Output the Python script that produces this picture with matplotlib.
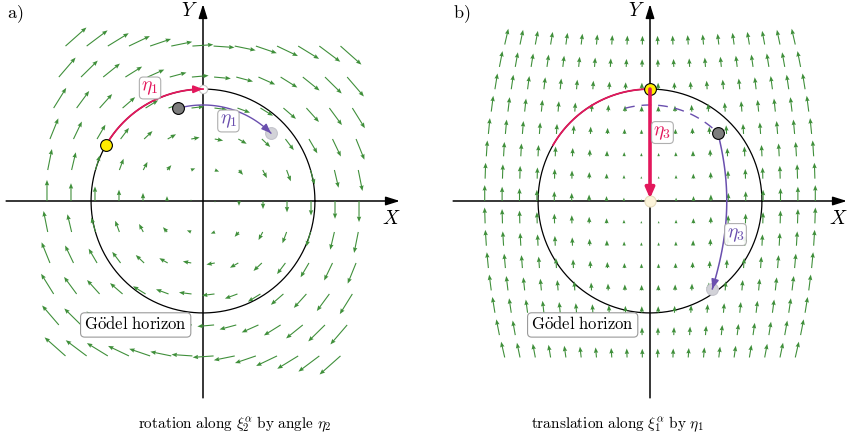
import numpy as np
import matplotlib.pyplot as plt

plt.rcParams['mathtext.fontset'] = 'cm'
plt.rcParams['font.family'] = 'serif'

W, H = 847, 438
PX = 127.0   # pixels per unit of the radial coordinate r

# --- values -----------------------------------------------------------
r_h = np.arcsinh(1.0)          # Goedel horizon, sinh r = 1
eta_deg = 60                   # rotation angle eta_1
yellow_deg = 150               # start of the red arc
gray_r = 0.756                 # radius of the purple point
gray_deg_a = 105               # purple point before rotation
gray_deg_b = gray_deg_a - eta_deg

# grid of the drawn vector fields (model units)
cols_a = (np.arange(-7, 7) + 0.5) * 0.189
rows_a = np.arange(-5, 6) * 0.244
cols_b = (np.arange(-10, 10) + 0.5) * 0.137
rows_b = np.arange(-7, 8) * 0.176

captions = [r'$\mathrm{rotation\ along\ }\xi_2^{\alpha}\mathrm{\ by\ angle\ }\eta_2$',
            r'$\mathrm{translation\ along\ }\xi_1^{\alpha}\mathrm{\ by\ }\eta_1$']
panel_names = [r'$\mathrm{a)}$', r'$\mathrm{b)}$']

GREEN = '#3f8f3a'
RED = '#e3175c'
PURPLE = '#6a4fae'
BEND = 3.54


def make_axes(x0, x1, ox, oy):
    ax = fig.add_axes([x0 / W, 0, (x1 - x0) / W, 1])
    ax.set_xlim((x0 - ox) / PX, (x1 - ox) / PX)
    ax.set_ylim((oy - H) / PX, oy / PX)
    ax.axis('off')
    return ax


def polar(r, deg):
    a = np.deg2rad(deg)
    return r * np.cos(a), r * np.sin(a)


def translate(r, deg, s):
    # hyperbolic translation along -Y in the disk w = tanh(r) e^{i phi}
    w = np.tanh(r) * np.exp(1j * np.deg2rad(deg))
    b = np.tanh(s)
    w2 = (w - 1j * b) / (1 + 1j * b * w)
    rr = np.arctanh(np.abs(w2))
    return rr * np.cos(np.angle(w2)), rr * np.sin(np.angle(w2))


def grid(cols, rows):
    X0, Y = np.meshgrid(cols, rows)
    X = X0 * (1 - (Y / BEND) ** 2)
    return X, Y


def frame(ax, name, cap, cap_x):
    ext = 1.55
    kw = dict(arrowstyle='-|>,head_length=0.7,head_width=0.22', color='black',
              lw=1.1, shrinkA=0, shrinkB=0, mutation_scale=12)
    ax.annotate('', xy=(ext, 0), xytext=(-ext, 0), arrowprops=kw, zorder=2)
    ax.annotate('', xy=(0, ext), xytext=(0, -ext), arrowprops=kw, zorder=2)
    t = np.linspace(0, 2 * np.pi, 400)
    ax.plot(r_h * np.cos(t), r_h * np.sin(t), color='black', lw=0.9, zorder=2)
    ax.text(1.48, -0.14, r'$X$', fontsize=14, ha='center', va='center')
    ax.text(-0.11, 1.50, r'$Y$', fontsize=14, ha='center', va='center')
    ax.text(-1.48, 1.47, name, fontsize=13, ha='center', va='center')
    ax.text(cap_x, -1.756, cap, fontsize=11, ha='center', va='center')
    ax.text(-0.53, -0.976, r'$\mathrm{G\ddot{o}del\ horizon}$', fontsize=12,
            ha='center', va='center', zorder=10,
            bbox=dict(boxstyle='round,pad=0.22,rounding_size=0.25', fc='white',
                      ec='#9a9a9a', lw=0.8))


def tag(ax, x, y, s, color):
    ax.text(x, y, s, color=color, fontsize=14, ha='center', va='center', zorder=10,
            bbox=dict(boxstyle='round,pad=0.1,rounding_size=0.2', fc='white',
                      ec='#a8a8a8', lw=0.8, alpha=0.92))


def arrow_end(ax, xs, ys, color, lw):
    ax.annotate('', xy=(xs[-1], ys[-1]), xytext=(xs[-4], ys[-4]), zorder=6,
                arrowprops=dict(arrowstyle='-|>,head_length=0.55,head_width=0.22',
                                color=color, lw=lw, shrinkA=0, shrinkB=0,
                                mutation_scale=10))


def dot(ax, x, y, fc, ec, ms=8.5, z=7):
    ax.plot([x], [y], 'o', ms=ms, mfc=fc, mec=ec, mew=0.8, zorder=z)


qkw = dict(angles='xy', scale_units='xy', scale=1, units='dots', width=1.1,
           headwidth=4, headlength=5, headaxislength=4.5, minlength=0.3,
           color=GREEN, pivot='tail', zorder=2.5)

fig = plt.figure(figsize=(W / 100, H / 100), dpi=100)

# ---------------- panel a: rotation ----------------
ax = make_axes(0, 420, 203, 201)
frame(ax, panel_names[0], captions[0], 0.252)
X, Y = grid(cols_a, rows_a)
ax.quiver(X, Y, 0.135 * Y, -0.135 * X, **qkw)

ang = np.linspace(yellow_deg, yellow_deg - eta_deg, 80)
xs, ys = polar(r_h, ang)
ax.plot(xs, ys, color=RED, lw=1.3, zorder=5)
arrow_end(ax, xs, ys, RED, 1.3)
dot(ax, *polar(r_h, yellow_deg), '#ffec00', 'black')
dot(ax, *polar(r_h, yellow_deg - eta_deg), 'white', '#c8c8c8', ms=6, z=4)

ang = np.linspace(gray_deg_a, gray_deg_b, 80)
xs, ys = polar(gray_r, ang)
dot(ax, xs[-1], ys[-1], '#d2d2d8', '#c4c4cc', z=4)
ax.plot(xs, ys, color=PURPLE, lw=1.0, zorder=5)
arrow_end(ax, xs, ys, PURPLE, 1.0)
dot(ax, xs[0], ys[0], '#7d7d7d', 'black')
tag(ax, -0.417, 0.89, r'$\eta_{\mathbf{1}}$', RED)
tag(ax, 0.20, 0.63, r'$\eta_{\mathbf{1}}$', PURPLE)

# ---------------- panel b: translation ----------------
ax = make_axes(425, W, 650, 201)
frame(ax, panel_names[1], captions[1], -0.256)
X, Y = grid(cols_b, rows_b)
dx = -2 * X * Y / BEND ** 2
dy = 1 + (X ** 2 - Y ** 2) / BEND ** 2
norm = np.hypot(dx, dy)
L = 0.09 * np.sqrt(X ** 2 + 0.3 * Y ** 2) + 1.0 / PX
ax.quiver(X, Y, L * dx / norm, L * dy / norm, **qkw)

ang = np.linspace(yellow_deg, yellow_deg - eta_deg, 80)
xs, ys = polar(r_h, ang)
ax.plot(xs, ys, color=RED, lw=1.3, zorder=5)
dot(ax, 0, 0, '#fcf4da', '#e6dcbc', ms=8, z=4)
ax.annotate('', xy=(0, 0.02), xytext=(0, r_h), zorder=6,
            arrowprops=dict(arrowstyle='-|>,head_length=0.5,head_width=0.22',
                            color=RED, lw=2.6, shrinkA=0, shrinkB=0,
                            mutation_scale=12))
dot(ax, 0, r_h, '#ffec00', 'black', z=5)

ang = np.linspace(gray_deg_a, gray_deg_b, 80)
xs, ys = polar(gray_r, ang)
ax.plot(xs, ys, color=PURPLE, lw=1.0, ls=(0, (7, 5)), zorder=5)
s = np.linspace(0, r_h, 80)
px_, py_ = translate(gray_r, gray_deg_b, s)
dot(ax, px_[-1], py_[-1], '#d2d2d8', '#c4c4cc', z=4)
ax.plot(px_, py_, color=PURPLE, lw=1.1, zorder=5)
arrow_end(ax, px_, py_, PURPLE, 1.1)
dot(ax, px_[0], py_[0], '#7d7d7d', 'black')
tag(ax, 0.098, 0.539, r'$\eta_{\mathbf{3}}$', RED)
tag(ax, 0.673, -0.264, r'$\eta_{\mathbf{3}}$', PURPLE)

fig.savefig('out.png', dpi=100)
